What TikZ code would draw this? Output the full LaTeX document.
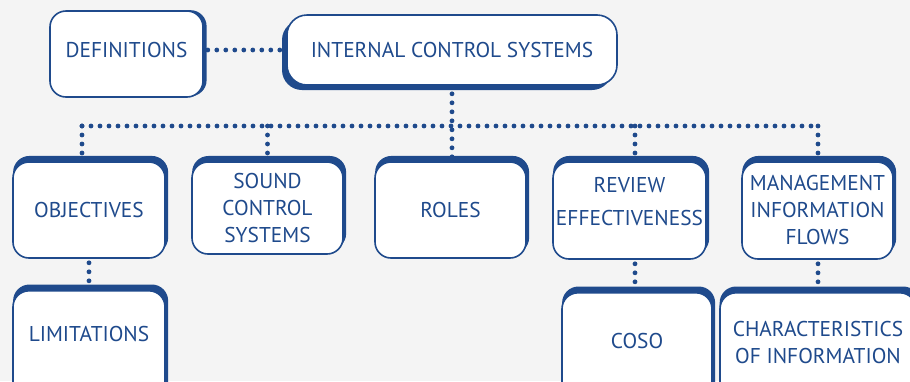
\documentclass[tikz,border=0pt]{standalone}
\usepackage{fontspec}
\setmainfont{PT Sans}
\usetikzlibrary{shadows}
\definecolor{icsblue}{HTML}{1F4A8C}
\definecolor{icsback}{HTML}{F4F4F4}

\begin{document}
\begin{tikzpicture}[x=0.5pt, y=-0.5pt,
  box/.style={draw=icsblue, line width=0.8pt, fill=white, rounded corners=8pt,
              align=center, text=icsblue, inner sep=1pt,
              font=\fontsize{10.7}{13.5}\selectfont},
  topedge/.style={box, general shadow={fill=icsblue, shadow xshift=0.8pt,
              shadow yshift=2.5pt, shadow scale=1.02}},
  dots/.style={icsblue, line width=2.4pt, line cap=round,
               dash pattern=on 0pt off 4.5pt}]
\useasboundingbox[fill=icsback] (0,0) rectangle (910,381);
\clip (0,0) rectangle (910,381);
% top level
\node[box, minimum width=76.5pt, minimum height=43pt, text depth=4pt,
      general shadow={fill=icsblue, shadow xshift=1.8pt, shadow yshift=0.4pt}]
      (defs) at (126.5,54) {DEFINITIONS};
\node[box, minimum width=165pt, minimum height=35pt, rounded corners=10pt,
      general shadow={fill=icsblue, shadow xshift=-2.5pt, shadow yshift=-2.5pt}]
      (ics) at (452,50) {INTERNAL CONTROL SYSTEMS};
% second row
\node[topedge, minimum width=76pt, minimum height=48pt] (obj) at (89,210) {OBJECTIVES};
\node[topedge, minimum width=75.5pt, minimum height=46pt] (sound) at (267.5,208)
      {SOUND\\CONTROL\\SYSTEMS};
\node[topedge, minimum width=75.5pt, minimum height=48pt] (roles) at (450.5,210) {ROLES};
\node[topedge, minimum width=76.5pt, minimum height=48.5pt, text depth=9pt]
      (review) at (629.5,210.5) {REVIEW\\[3pt]EFFECTIVENESS};
\node[topedge, minimum width=75.5pt, minimum height=48.5pt] (mgmt) at (817.5,210.5)
      {MANAGEMENT\\INFORMATION\\FLOWS};
% third row, cut off at the bottom
\node[topedge, anchor=north, minimum width=76pt, minimum height=60pt, text depth=17pt]
      (limits) at (89,290) {LIMITATIONS};
\node[topedge, anchor=north, minimum width=75pt, minimum height=60pt, text depth=12pt]
      (coso) at (637,292) {COSO};
\node[topedge, anchor=north, minimum width=98pt, minimum height=60pt, text depth=10.5pt]
      (chars) at (818,292) {CHARACTERISTICS\\OF INFORMATION};
% bus
\coordinate (busL) at (82,126);
\coordinate (busR) at (818,126);
\coordinate (busRev) at (635,126);
\draw[dots] (busL) -- (busR);
\draw[dots, shorten <=4pt] (ics.south) -- (ics.south |- roles.north);
\draw[dots, shorten >=3pt] (busL) -- (busL |- obj.north);
\draw[dots, shorten >=3pt] (sound.north |- busL) -- (sound.north);
\draw[dots, shorten >=3pt] (busRev) -- (busRev |- review.north);
\draw[dots, shorten >=3pt] (busR) -- (busR |- mgmt.north);
% links
\draw[dots, shorten <=2pt, shorten >=3pt] (ics.west -| defs.east) -- (ics.west);
\draw[dots, shorten <=2pt, shorten >=2.5pt] (obj.south) -- (limits.north);
\draw[dots, shorten <=2pt, shorten >=2.5pt] (review.south -| busRev) -- (coso.north -| busRev);
\draw[dots, shorten <=2pt, shorten >=2.5pt] (mgmt.south -| busR) -- (chars.north -| busR);
\end{tikzpicture}
\end{document}
